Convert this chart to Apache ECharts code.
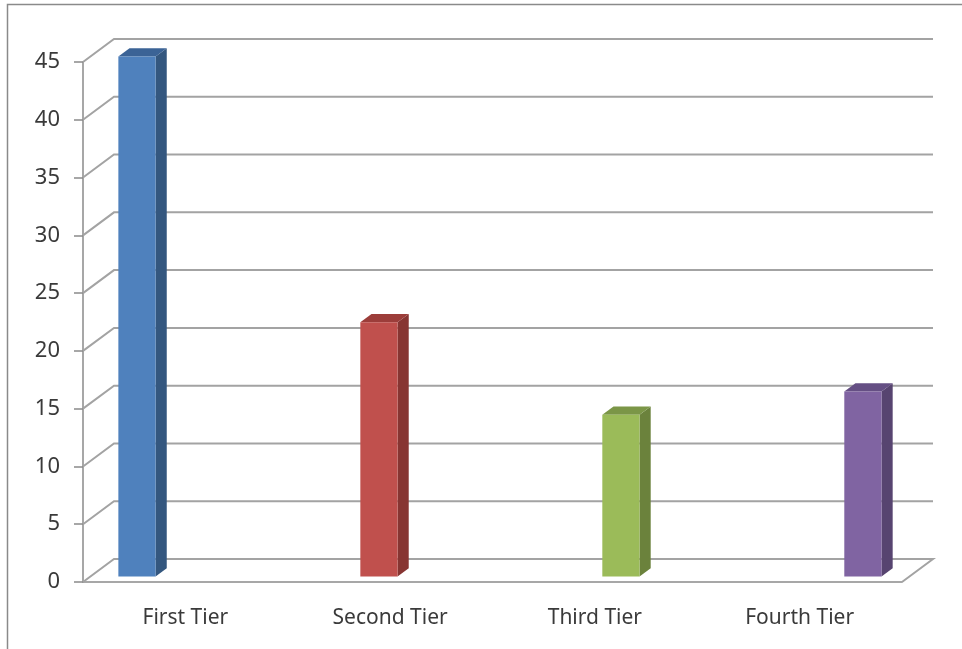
<!DOCTYPE html>
<html>
<head>
<meta charset="utf-8">
<script src="https://cdn.jsdelivr.net/npm/echarts@6/dist/echarts.min.js"></script>
<style>
html, body { margin: 0; padding: 0; background: #fff; }
#main { width: 962px; height: 649px; }
</style>
</head>
<body>
<div id="main"></div>
<script>
// chart data
var categories = ['First Tier', 'Second Tier', 'Third Tier', 'Fourth Tier'];
var values = [45, 22, 14, 16];
var yTicks = [0, 5, 10, 15, 20, 25, 30, 35, 40, 45];

// face colours per series (front / side / top)
var frontColors = ['#4f81bd', '#c0504d', '#9bbb59', '#8064a2'];
var sideColors = ['#34577f', '#873532', '#6b823c', '#574470'];
var topColors = ['#3b6396', '#9c3d3a', '#7b9647', '#654f84'];

// fake 3D depth of the floor / walls
var DX = 31, DY = -23;
var D0 = 0.24, D1 = 0.6;

var myChart = echarts.init(document.getElementById('main'));

function renderWall(params, api) {
    var v = api.value(1);
    var cs = params.coordSys;
    var y = api.coord([0, v])[1];
    var xl = cs.x, xr = cs.x + cs.width;
    var pts = [[xl, y], [xl + DX, y + DY], [xr + DX, y + DY]];
    if (v === 0) pts.push([xr, y]);
    return {
        type: 'polyline',
        shape: { points: pts },
        style: { stroke: '#a3a3a3', lineWidth: 2, fill: null }
    };
}

function renderBar(params, api) {
    var cat = api.value(0), val = api.value(1), s = api.value(2);
    var base = api.coord([cat, 0]);
    var top = api.coord([cat, val]);
    var band = api.size([1, 0])[0];
    var w = band / 5.5; // 4 series + 150% gap width
    var x0 = base[0] - 2 * w + s * w + D0 * DX;
    var yb = base[1] + D0 * DY, yt = top[1] + D0 * DY;
    var sx = (D1 - D0) * DX, sy = (D1 - D0) * DY;
    return {
        type: 'group',
        children: [
            { type: 'polygon', shape: { points: [[x0 + w, yb], [x0 + w + sx, yb + sy], [x0 + w + sx, yt + sy], [x0 + w, yt]] },
              style: { fill: sideColors[s] } },
            { type: 'polygon', shape: { points: [[x0, yt], [x0 + sx, yt + sy], [x0 + w + sx, yt + sy], [x0 + w, yt]] },
              style: { fill: topColors[s] } },
            { type: 'rect', shape: { x: x0, y: yt, width: w, height: yb - yt },
              style: { fill: frontColors[s] } }
        ]
    };
}

option = {
    animation: false,
    graphic: [{
        type: 'rect',
        shape: { x: 7.5, y: 4.5, width: 970, height: 660 },
        style: { fill: null, stroke: '#8a8a8a', lineWidth: 1.5 },
        silent: true
    }],
    grid: { left: 83, right: 60, top: 62, bottom: 67 },
    xAxis: {
        type: 'category',
        data: categories,
        axisLine: { lineStyle: { color: '#8a8a8a', width: 1.5 } },
        axisTick: { length: 9, lineStyle: { color: '#8a8a8a', width: 1.5 } },
        axisLabel: { margin: 26, fontSize: 21, color: '#3a3a3a', fontFamily: 'Noto Sans' },
        splitLine: { show: false }
    },
    yAxis: {
        type: 'value',
        min: 0,
        max: 45,
        interval: 5,
        axisLine: { show: true, lineStyle: { color: '#8a8a8a', width: 1.5 } },
        axisTick: { show: true, length: 9, lineStyle: { color: '#8a8a8a', width: 1.5 } },
        axisLabel: { margin: 23, fontSize: 22, color: '#3a3a3a', fontFamily: 'Noto Sans' },
        splitLine: { show: false }
    },
    series: [{
        name: 'walls',
        type: 'custom',
        renderItem: renderWall,
        data: yTicks.map(function (t) { return [0, t]; }),
        clip: false,
        silent: true,
        z: 1
    }, {
        name: 'tiers',
        type: 'custom',
        renderItem: renderBar,
        data: values.map(function (v, i) { return [i, v, i]; }),
        clip: false,
        z: 3
    }]
};

myChart.setOption(option);
</script>
</body>
</html>
